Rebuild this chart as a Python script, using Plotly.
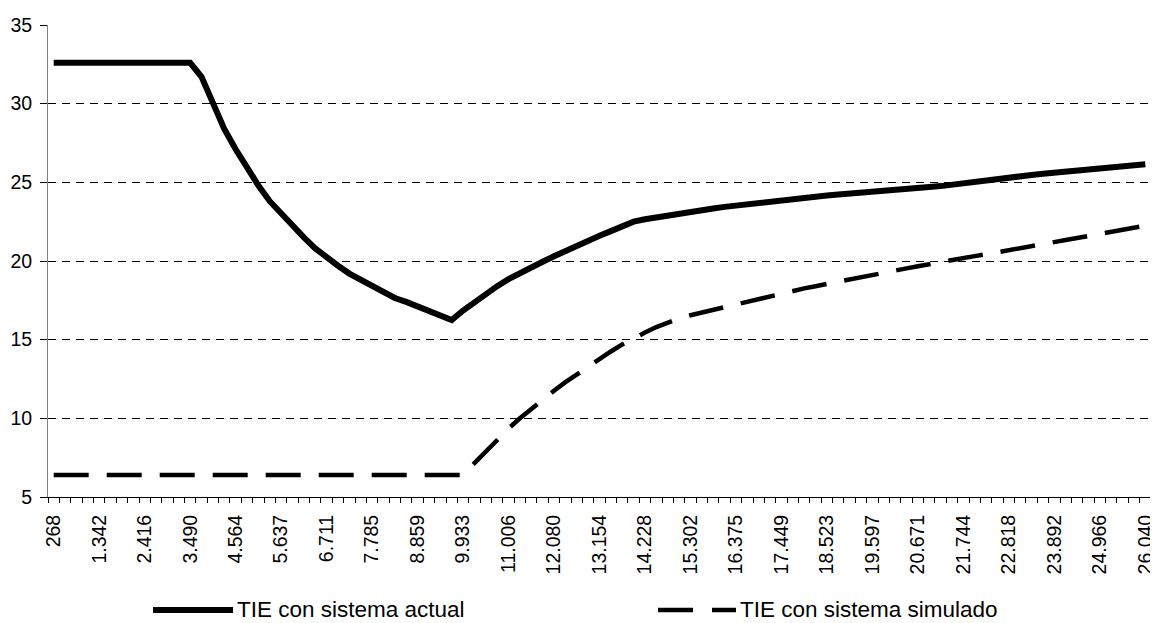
import plotly.graph_objects as go

# Category values along the x axis (distance)
x_values = [
    268, 537, 805, 1074, 1342, 1611, 1879, 2148, 2416, 2685, 2953, 3221, 3490,
    3758, 4027, 4295, 4564, 4832, 5101, 5369, 5637, 5906, 6174, 6443, 6711,
    6980, 7248, 7517, 7785, 8054, 8322, 8590, 8859, 9127, 9396, 9664, 9933,
    10201, 10470, 10738, 11006, 11275, 11543, 11812, 12080, 12349, 12617, 12886,
    13154, 13423, 13691, 13959, 14228, 14496, 14765, 15033, 15302, 15570, 15839,
    16107, 16375, 16644, 16912, 17181, 17449, 17718, 17986, 18255, 18523, 18792,
    19060, 19328, 19597, 19865, 20134, 20402, 20671, 20939, 21208, 21476, 21744,
    22013, 22281, 22550, 22818, 23087, 23355, 23624, 23892, 24161, 24429, 24697,
    24966, 25234, 25503, 25771, 26040,
]

x_tick_labels = [
    "268", "1.342", "2.416", "3.490", "4.564", "5.637", "6.711", "7.785",
    "8.859", "9.933", "11.006", "12.080", "13.154", "14.228", "15.302",
    "16.375", "17.449", "18.523", "19.597", "20.671", "21.744", "22.818",
    "23.892", "24.966", "26.040",
]

series_names = ["TIE con sistema actual", "TIE con sistema simulado"]

tie_actual = [
    32.6, 32.6, 32.6, 32.6, 32.6, 32.6, 32.6, 32.6, 32.6, 32.6, 32.6, 32.6, 32.6,
    31.7, 30.0, 28.4, 27.1, 25.9, 24.8, 23.8, 23.0, 22.2, 21.5, 20.8, 20.2,
    19.7, 19.2, 18.8, 18.4, 18.0, 17.65, 17.4, 17.1, 16.8, 16.5, 16.25,
    16.85, 17.4, 17.9, 18.4, 18.85, 19.25, 19.6, 19.95, 20.3, 20.65, 20.95,
    21.3, 21.6, 21.9, 22.2, 22.5,
    22.65, 22.78, 22.9, 23.02, 23.13, 23.24, 23.34, 23.44, 23.53, 23.62, 23.71,
    23.79, 23.87, 23.95, 24.02, 24.09, 24.16, 24.23, 24.3, 24.37, 24.43, 24.49,
    24.55, 24.61, 24.66, 24.71, 24.76,
    24.86, 24.96, 25.05, 25.14, 25.23, 25.31, 25.39, 25.47, 25.55, 25.62, 25.69,
    25.76, 25.83, 25.9, 25.96, 26.03, 26.09, 26.15,
]

tie_simulado = [
    6.4, 6.4, 6.4, 6.4, 6.4, 6.4, 6.4, 6.4, 6.4, 6.4, 6.4, 6.4, 6.4, 6.4, 6.4,
    6.4, 6.4, 6.4, 6.4, 6.4, 6.4, 6.4, 6.4, 6.4, 6.4, 6.4, 6.4, 6.4, 6.4, 6.4,
    6.4, 6.4, 6.4, 6.4, 6.4, 6.4, 6.4,
    7.15, 7.9, 8.65, 9.35, 10.0, 10.6, 11.2, 11.75, 12.3, 12.8, 13.3, 13.8,
    14.25, 14.7, 15.1, 15.45, 15.8, 16.1,
    16.35, 16.55, 16.72, 16.9, 17.1, 17.3, 17.47, 17.64, 17.8, 17.96, 18.11,
    18.26, 18.4, 18.55, 18.69, 18.83, 18.97, 19.11, 19.25, 19.39, 19.53, 19.67,
    19.81, 19.95, 20.07, 20.19, 20.31, 20.43, 20.55, 20.68, 20.81, 20.94, 21.07,
    21.2, 21.33, 21.46, 21.59, 21.72, 21.86, 21.99, 22.12, 22.25,
]

FONT = "Arial, 'Liberation Sans', sans-serif"
TICK_SIZE = 19.5
LEGEND_SIZE = 22.5
# The page body has an 8px margin, so the figure sits at (8, 8) in the window
OFF = 8
W, H = 1158 - OFF, 623 - OFF
# Plot area in window pixels: x 48..1151, y 25..497
ML, MR, MT, MB = 48 - OFF, W - (1151 - OFF), 25 - OFF, H - (497 - OFF)

fig = go.Figure()
fig.add_trace(go.Scatter(x=x_values, y=tie_actual, mode="lines",
                         name=series_names[0],
                         line=dict(color="black", width=6)))
fig.add_trace(go.Scatter(x=x_values, y=tie_simulado, mode="lines",
                         name=series_names[1],
                         line=dict(color="black", width=4.5, dash="35px,18px")))

step = x_values[1] - x_values[0]
boundaries = [x_values[0] - step / 2] + [
    (a + b) / 2 for a, b in zip(x_values[:-1], x_values[1:])
] + [x_values[-1] + (x_values[-1] - x_values[-2]) / 2]

fig.update_xaxes(
    type="linear",
    automargin=False,
    range=[boundaries[0], boundaries[-1]],
    tickmode="array",
    tickvals=x_values[0::4],
    ticktext=x_tick_labels,
    tickangle=-90,
    ticks="",
    ticklabelstandoff=9,
    ticklabeloverflow="allow",
    showgrid=False,
    zeroline=False,
    showline=True,
    linecolor="black",
    linewidth=1,
    tickfont=dict(family=FONT, size=TICK_SIZE, color="black"),
    minor=dict(tickmode="array", tickvals=boundaries, ticks="outside",
               ticklen=5, tickwidth=1, tickcolor="black", showgrid=False),
)
fig.update_yaxes(
    automargin=False,
    range=[5, 35],
    tickmode="linear",
    tick0=5,
    dtick=5,
    ticks="outside",
    ticklen=7,
    tickcolor="black",
    ticklabelstandoff=4,
    showgrid=True,
    gridcolor="black",
    gridwidth=1,
    griddash="8px,6px",
    zeroline=False,
    showline=True,
    linecolor="#808080",
    linewidth=1,
    tickfont=dict(family=FONT, size=TICK_SIZE, color="black"),
)

# Legend drawn below the plot (window pixel positions converted to paper units)
pw = W - ML - MR
ph = H - MT - MB


def px_x(p):
    return (p - OFF - ML) / pw


def px_y(p):
    return (H - MB - (p - OFF)) / ph


leg_y = px_y(610)
fig.add_shape(type="line", xref="paper", yref="paper",
              x0=px_x(153), x1=px_x(233), y0=leg_y, y1=leg_y,
              line=dict(color="black", width=6))
fig.add_shape(type="line", xref="paper", yref="paper",
              x0=px_x(658), x1=px_x(736), y0=leg_y, y1=leg_y,
              line=dict(color="black", width=4.5, dash="35px,19px"))
fig.add_annotation(xref="paper", yref="paper", x=px_x(235), y=px_y(609),
                   text=series_names[0], showarrow=False,
                   xanchor="left", yanchor="middle",
                   font=dict(family=FONT, size=LEGEND_SIZE, color="black"))
fig.add_annotation(xref="paper", yref="paper", x=px_x(738), y=px_y(609),
                   text=series_names[1], showarrow=False,
                   xanchor="left", yanchor="middle",
                   font=dict(family=FONT, size=LEGEND_SIZE, color="black"))

fig.update_layout(
    width=W, height=H,
    margin=dict(l=ML, r=MR, t=MT, b=MB, pad=0, autoexpand=False),
    paper_bgcolor="white",
    plot_bgcolor="white",
    showlegend=False,
    font=dict(family=FONT, size=TICK_SIZE, color="black"),
)

fig.write_html("out.html")
